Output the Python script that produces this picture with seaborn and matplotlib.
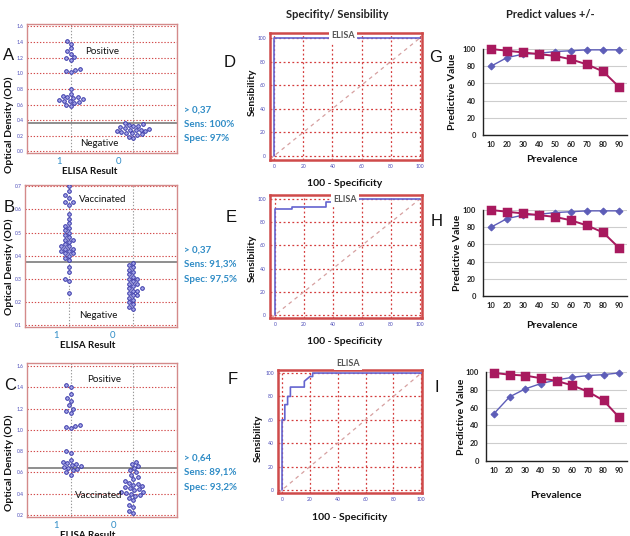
import numpy as np
import pandas as pd
import matplotlib
matplotlib.use("Agg")
import matplotlib.pyplot as plt
from matplotlib.transforms import ScaledTranslation
import seaborn as sns

sns.set_theme(style="white")
plt.rcParams["font.family"] = ["Lato", "DejaVu Sans"]

# ---------------- data ----------------
# Panel A: ELISA positive (1) vs negative (0)
a_pos = [1.41, 1.38, 1.32, 1.29, 1.25, 1.21, 1.19, 1.17, 1.05, 1.04, 1.03, 1.02,
         0.80, 0.73, 0.71, 0.70, 0.69, 0.68, 0.67, 0.66, 0.65, 0.64, 0.63, 0.62, 0.60, 0.58]
a_neg = [0.37, 0.35, 0.34, 0.33, 0.32, 0.31, 0.30, 0.29, 0.28, 0.28, 0.27, 0.26, 0.26,
         0.25, 0.24, 0.23, 0.22, 0.21, 0.19, 0.17]
a_cut = 0.37
# Panel B: vaccinated (1) vs negative (0)
b_pos = [0.70, 0.68, 0.66, 0.65, 0.63, 0.63, 0.62, 0.58, 0.56, 0.54, 0.53, 0.52, 0.51, 0.50,
         0.49, 0.48, 0.47, 0.47, 0.46, 0.45, 0.44, 0.44, 0.43, 0.43, 0.42, 0.42, 0.41, 0.41,
         0.40, 0.39, 0.38, 0.35, 0.33, 0.30, 0.29, 0.24]
b_neg = [0.37, 0.36, 0.35, 0.34, 0.33, 0.32, 0.31, 0.30, 0.30, 0.29, 0.28, 0.28, 0.27, 0.26,
         0.26, 0.25, 0.25, 0.24, 0.23, 0.23, 0.22, 0.21, 0.20, 0.19, 0.18, 0.17]
b_cut = 0.375
# Panel C: positive (1) vs vaccinated (0)
c_pos = [1.42, 1.40, 1.34, 1.30, 1.27, 1.23, 1.20, 1.18, 1.16, 1.05, 1.04, 1.03, 1.02,
         0.80, 0.78, 0.72, 0.70, 0.69, 0.68, 0.67, 0.66, 0.65, 0.64, 0.63, 0.62, 0.60, 0.58]
c_neg = [0.70, 0.68, 0.66, 0.64, 0.62, 0.60, 0.58, 0.56, 0.54, 0.52, 0.50, 0.49, 0.48, 0.47,
         0.46, 0.45, 0.44, 0.43, 0.42, 0.42, 0.41, 0.40, 0.39, 0.38, 0.36, 0.34, 0.29, 0.27,
         0.24, 0.22]
c_cut = 0.64

a_stats = ["> 0,37", "Sens: 100%", "Spec: 97%"]
b_stats = ["> 0,37", "Sens: 91,3%", "Spec: 97,5%"]
c_stats = ["> 0,64", "Sens: 89,1%", "Spec: 93,2%"]

# ROC curves (100 - specificity, sensitivity)
d_fpr = [0, 0, 100]
d_tpr = [0, 100, 100]
e_fpr = [0, 0, 12, 12, 35, 35, 48, 48, 100]
e_tpr = [0, 91.3, 91.3, 93, 93, 97, 97, 100, 100]
f_fpr = [0, 0, 2, 2, 4, 4, 6, 6, 16, 16, 18, 20, 22, 22, 100]
f_tpr = [0, 60, 60, 73, 73, 80, 80, 88, 88, 93, 95, 97, 97, 100, 100]

# Predictive values vs prevalence
prevalence = [10, 20, 30, 40, 50, 60, 70, 80, 90]
g_pos = [80, 90, 94, 95, 97, 98, 99, 99, 99]
g_neg = [100, 98, 96, 94, 92, 88, 82, 74, 56]
h_pos = [80, 90, 94, 95, 97, 98, 99, 99, 99]
h_neg = [100, 98, 96, 94, 92, 88, 82, 74, 56]
i_pos = [53, 72, 81, 87, 91, 94, 96, 97, 99]
i_neg = [99, 97, 96, 93, 90, 85, 78, 68, 49]

# ---------------- layout helpers ----------------
W, H = 630, 536
fig = plt.figure(figsize=(W / 100, H / 100), dpi=100)


def add_ax(box):
    l, t, r, b = box
    return fig.add_axes([l / W, 1 - b / H, (r - l) / W, (b - t) / H])


def ftext(x, y, s, **kw):
    kw.setdefault("ha", "center")
    kw.setdefault("va", "center")
    fig.text(x / W, 1 - y / H, s, **kw)


def label_pos(ax, box, xlab=None, ylab=None):
    l, t, r, b = box
    if xlab is not None:
        x, y = xlab
        ax.xaxis.set_label_coords((x - l) / (r - l), (b - y) / (b - t))
        ax.xaxis.label.set_verticalalignment("center")
    if ylab is not None:
        x, y = ylab
        ax.yaxis.set_label_coords((x - l) / (r - l), (b - y) / (b - t))
        ax.yaxis.label.set_verticalalignment("center")


CYAN = "#2f8cc6"
TICKBLUE = "#4a4ab8"


def strip_panel(box, pos, neg, cut, ylim, yticks, texts, stats, stats_y, xlab, ylab, offs):
    ax = add_ax(box)
    df = pd.DataFrame({"result": ["1"] * len(pos) + ["0"] * len(neg), "od": pos + neg})
    ax.set_axisbelow(True)
    ax.grid(axis="y", color="#d24a4a", ls=(0, (1.2, 1.6)), lw=0.8)
    for xc in (0, 1):
        ax.axvline(xc, color="#9a9a9a", ls=(0, (1.2, 1.6)), lw=0.8, zorder=0.5)
    ax.axhline(cut, color="#7c7c7c", lw=1.2, zorder=1)
    sns.swarmplot(data=df, x="result", y="od", order=["1", "0"], ax=ax, size=2.6,
                  color="#a8a8ea", edgecolor="#3434a6", linewidth=0.7, zorder=3)
    ax.set_xlim(-0.7, 1.7)
    ax.set_ylim(*ylim)
    ax.set_yticks(yticks)
    ax.set_yticklabels([f"{v:.1f}" for v in yticks], fontsize=3.6, color=TICKBLUE)
    ax.tick_params(axis="y", length=1.5, pad=1, color="#7070b0")
    ax.set_xticks([0, 1])
    ax.set_xticklabels(["1", "0"], fontsize=6.8, color=CYAN)
    ax.tick_params(axis="x", length=2, pad=1, color="#9a9a9a")
    for lbl, dx in zip(ax.get_xticklabels(), offs):
        lbl.set_transform(lbl.get_transform() + ScaledTranslation(dx / 100, 0, fig.dpi_scale_trans))
    for sp in ax.spines.values():
        sp.set_color("#d48a8a")
        sp.set_linewidth(1.0)
    ax.set_xlabel("ELISA Result", fontsize=7, fontweight="bold", color="#111111")
    ax.set_ylabel("Optical Density (OD)", fontsize=7.5, fontweight="bold", color="#111111")
    label_pos(ax, box, xlab=xlab, ylab=ylab)
    for (tx, ty, s) in texts:
        ftext(tx, ty, s, fontsize=7, color="#111111")
    for k, s in enumerate(stats):
        ftext(184, stats_y + 14.5 * k, s, fontsize=7, color=CYAN, fontweight="bold", ha="left")
    return ax


def roc_panel(box, fpr, tpr, xlim, ylim, elisa_xy, xlab, ylab):
    ax = add_ax(box)
    ax.set_axisbelow(True)
    ax.set_xticks(range(0, 101, 20))
    ax.set_yticks(range(0, 101, 20))
    ax.grid(True, color="#d43c3c", ls=(0, (1.5, 2.0)), lw=0.9)
    ax.axline((0, 0), slope=1, color="#d6a0a0", ls=(0, (3, 3)), lw=0.9, zorder=1)
    sns.lineplot(x=fpr, y=tpr, sort=False, estimator=None, color="#6464cf", lw=1.2, ax=ax, zorder=3)
    ax.set_xlim(*xlim)
    ax.set_ylim(*ylim)
    ax.tick_params(labelsize=3.6, labelcolor=TICKBLUE, length=1.5, pad=1.5, color="#c04040")
    for sp in ax.spines.values():
        sp.set_color("#cf4a4a")
        sp.set_linewidth(1.8)
    ax.set_xlabel("100 - Specificity", fontsize=7.5, fontweight="bold", color="#111111")
    ax.set_ylabel("Sensibility", fontsize=7.5, fontweight="bold", color="#111111")
    label_pos(ax, box, xlab=xlab, ylab=ylab)
    ftext(elisa_xy[0], elisa_xy[1], "ELISA", fontsize=6.5, fontweight="bold", color="#555555",
          bbox=dict(facecolor="white", edgecolor="none", pad=1.5))
    return ax


def pv_panel(box, pos, neg, xlab, ylab):
    ax = add_ax(box)
    ax.set_axisbelow(True)
    ax.grid(axis="y", color="#cdcdcd", lw=0.8)
    sns.pointplot(x=prevalence, y=pos, color="#5d5db8", markers="D", markersize=3.5,
                  linewidth=1.0, errorbar=None, ax=ax)
    sns.pointplot(x=prevalence, y=neg, color="#a8195e", markers="s", markersize=6,
                  linewidth=1.4, errorbar=None, ax=ax)
    for ln in ax.lines:
        ln.set_clip_on(False)
    for c in ax.collections:
        c.set_clip_on(False)
    ax.set_ylim(0, 100)
    ax.set_xlim(-0.5, 8.5)
    ax.set_yticks(range(0, 101, 20))
    ax.set_xticks(np.arange(-0.5, 9.0, 1.0), minor=True)
    ax.tick_params(axis="x", which="major", length=0, pad=4)
    ax.tick_params(axis="x", which="minor", length=3, width=0.8, direction="inout", color="#222222")
    ax.tick_params(axis="y", length=3, width=0.8, direction="out", pad=2, color="#222222")
    for lbl in ax.get_xticklabels() + ax.get_yticklabels():
        lbl.set_fontsize(5.5)
        lbl.set_fontweight("bold")
        lbl.set_color("#222222")
    for s in ("top", "right"):
        ax.spines[s].set_visible(False)
    for s in ("left", "bottom"):
        ax.spines[s].set_color("#222222")
        ax.spines[s].set_linewidth(1.0)
    ax.set_xlabel("Prevalence", fontsize=7.5, fontweight="bold", color="#111111")
    ax.set_ylabel("Predictive Value", fontsize=7.5, fontweight="bold", color="#111111")
    label_pos(ax, box, xlab=xlab, ylab=ylab)
    return ax


# ---------------- panels ----------------
boxA = (27, 24, 177, 153)
strip_panel(boxA, a_pos, a_neg, a_cut, (-0.02, 1.63), np.arange(0, 1.61, 0.2),
            [(102, 51, "Positive"), (99, 144, "Negative")], a_stats, 110,
            xlab=(90, 172), ylab=(9, 125), offs=(-12, -15))
boxB = (25, 185, 177, 327)
strip_panel(boxB, b_pos, b_neg, b_cut, (0.093, 0.705), np.arange(0.1, 0.71, 0.1),
            [(103, 200, "Vaccinated"), (98, 316, "Negative")], b_stats, 250,
            xlab=(88, 345), ylab=(9, 267), offs=(-13, -20))
boxC = (27, 363, 177, 517)
strip_panel(boxC, c_pos, c_neg, c_cut, (0.18, 1.63), np.arange(0.2, 1.61, 0.2),
            [(104, 379, "Positive"), (99, 496, "Vaccinated")], c_stats, 458,
            xlab=(88, 535), ylab=(9, 463), offs=(-15, -20))

roc_panel((270, 33, 422, 160), d_fpr, d_tpr, (-2.7, 101.4), (-3.4, 104.2), (343, 36),
          xlab=(345, 183), ylab=(252, 92))
roc_panel((270, 195, 422, 318), e_fpr, e_tpr, (-3.4, 101.4), (-2.6, 103.4), (345, 200),
          xlab=(345, 342), ylab=(252, 258))
roc_panel((278, 370, 422, 493), f_fpr, f_tpr, (-2.9, 100.5), (-2.6, 102.6), (348, 363),
          xlab=(350, 517), ylab=(258, 438))

pv_panel((483, 49, 627, 135), g_pos, g_neg, xlab=(552, 160), ylab=(452, 92))
pv_panel((483, 210, 627, 296), h_pos, h_neg, xlab=(552, 325), ylab=(457, 253))
pv_panel((486, 372, 627, 461), i_pos, i_neg, xlab=(556, 495), ylab=(462, 417))

# panel letters
for (x, y, s) in [(9, 55, "A"), (9, 208, "B"), (10, 385, "C"), (230, 62, "D"), (231, 217, "E"),
                  (233, 380, "F"), (436, 57, "G"), (437, 221, "H"), (437, 387, "I")]:
    ftext(x, y, s, fontsize=12, family=["Liberation Sans", "DejaVu Sans"], color="#111111")

ftext(337, 14, "Specifity/ Sensibility", fontsize=8, fontweight="bold", color="#222222")
ftext(550, 14, "Predict values +/-", fontsize=8, fontweight="bold", color="#222222")

fig.savefig("out.png", dpi=100)
